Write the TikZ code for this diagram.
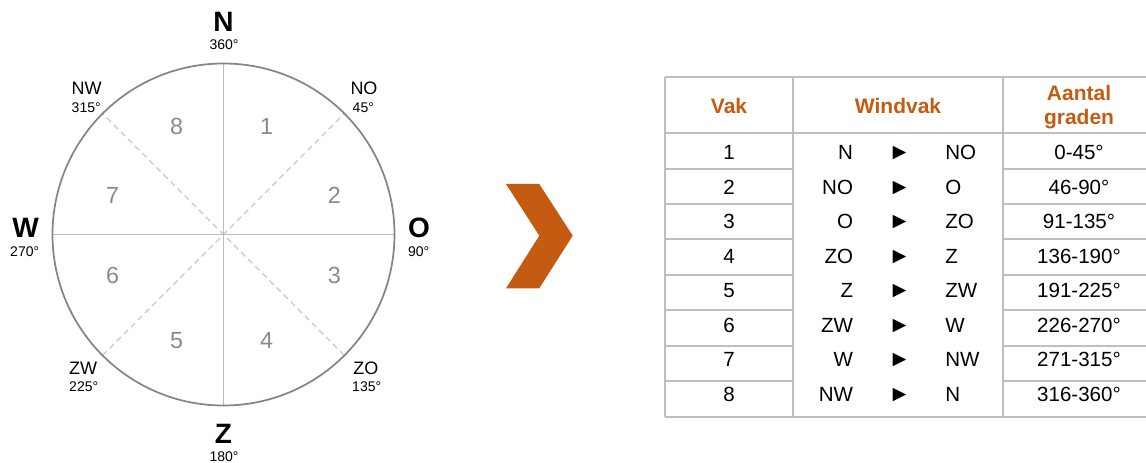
\documentclass[tikz,border=0pt]{standalone}
\usepackage{fontspec}
\setmainfont{Liberation Sans}
\usetikzlibrary{calc}
\definecolor{rim}{HTML}{858585}
\definecolor{axis}{HTML}{BDBDBD}
\definecolor{diag}{HTML}{C8C8C8}
\definecolor{sector}{HTML}{8A8A8A}
\definecolor{accent}{HTML}{C55A11}
\definecolor{grid}{HTML}{BFBFBF}
\tikzset{
  px/.style={x=0.75pt,y=-0.75pt},
  main/.style={font=\fontsize{21}{24}\selectfont\bfseries,anchor=base,inner sep=0pt},
  deg/.style={font=\fontsize{10.5}{12}\selectfont,anchor=base,inner sep=0pt},
  inter/.style={font=\fontsize{13.5}{15}\selectfont,anchor=base,inner sep=0pt},
  secnum/.style={font=\fontsize{17.5}{20}\selectfont,text=sector,anchor=base,inner sep=0pt},
  head/.style={font=\fontsize{15.75}{18}\selectfont\bfseries,text=accent,anchor=base,inner sep=0pt},
  cell/.style={font=\fontsize{15.4}{18}\selectfont,anchor=base,inner sep=0pt},
  pointer/.style={font=\fontsize{17}{20}\selectfont,anchor=base,inner sep=0pt},
  gridline/.style={draw=grid,line width=1.5pt},
}
\begin{document}
\begin{tikzpicture}[px]
\useasboundingbox (0,0) rectangle (1146,463);
% compass rose
\coordinate (c) at (223.5,234.5);
\draw[diag,line width=0.8pt,dash pattern=on 4.5pt off 3pt]
  ($(c)+(135:171)$) -- ($(c)+(-45:171)$)
  ($(c)+(45:171)$) -- ($(c)+(-135:171)$);
\draw[axis,line width=1pt] ($(c)+(0,-171)$) -- ($(c)+(0,171)$)
  ($(c)+(-171,0)$) -- ($(c)+(171,0)$);
\draw[rim,line width=1.3pt] (c) circle[radius=171];
% cardinal points
\node[main] (n) at (223.5,31.7) {N};
\node[deg] (n360) at (224,50) {360°};
\node[main] (o) at (419,237.3) {O};
\node[deg] (o90) at (418.7,256.7) {90°};
\node[main] (w) at (25.5,237.3) {W};
\node[deg] (w270) at (24.7,256.7) {270°};
\node[main] (z) at (223.5,443.3) {Z};
\node[deg] (z180) at (224,461.7) {180°};
% intercardinal points
\node[inter] (nw) at (86.7,94.3) {NW};
\node[deg] (nw315) at (86.2,112.7) {315°};
\node[inter] (no) at (364,94.3) {NO};
\node[deg] (no45) at (363.3,112.7) {45°};
\node[inter] (zw) at (83,374) {ZW};
\node[deg] (zw225) at (83.7,391.7) {225°};
\node[inter] (zo) at (365.8,374) {ZO};
\node[deg] (zo135) at (366.7,391.7) {135°};
% sector numbers
\node[secnum] (s1) at (266.7,135) {1};
\node[secnum] (s2) at (334.3,203.3) {2};
\node[secnum] (s3) at (334.3,283.3) {3};
\node[secnum] (s4) at (266.7,348.3) {4};
\node[secnum] (s5) at (176.7,348.3) {5};
\node[secnum] (s6) at (112.7,283.3) {6};
\node[secnum] (s7) at (112.7,203.3) {7};
\node[secnum] (s8) at (176.7,135) {8};
% chevron
\fill[accent] (506,184) -- (539.3,184) -- (572.7,235.7) -- (539.3,288.3)
  -- (506,288.3) -- (539.3,235.7) -- cycle;
% table grid
\draw[gridline] (665,77) -- (1146,77);
\draw[gridline] (665,133.3) -- (1146,133.3);
\draw[gridline] (665,416.7) -- (1146,416.7);
\foreach \k in {1,...,7}{
  \draw[gridline] (665,133.3+35.4*\k) -- (793.3,133.3+35.4*\k);
  \draw[gridline] (1003.3,133.3+35.4*\k) -- (1146,133.3+35.4*\k);
}
\foreach \x in {665,793.3,1003.3}
  \draw[gridline] (\x,77) -- (\x,416.7);
% header
\node[head] (hvak) at (729,113.3) {Vak};
\node[head] (hwind) at (898,113.3) {Windvak};
\node[head] (haant) at (1079,100.7) {Aantal};
\node[head] (hgrad) at (1079,125) {graden};
% body rows
\foreach \i/\a/\b/\d [count=\r from 0] in {
  1/N/NO/0-45°, 2/NO/O/46-90°, 3/O/ZO/91-135°, 4/ZO/Z/136-190°,
  5/Z/ZW/191-225°, 6/ZW/W/226-270°, 7/W/NW/271-315°, 8/NW/N/316-360°}{
  \pgfmathsetmacro{\yb}{160+34.5*\r}
  \node[cell] (vak\i) at (729,\yb) {\i};
  \node[cell,anchor=base east] (from\i) at (853.3,\yb) {\a};
  \node[pointer] (ptr\i) at (899.5,\yb) {►};
  \node[cell,anchor=base west] (to\i) at (945,\yb) {\b};
  \node[cell] (deg\i) at (1079,\yb) {\d};
}
\end{tikzpicture}
\end{document}
